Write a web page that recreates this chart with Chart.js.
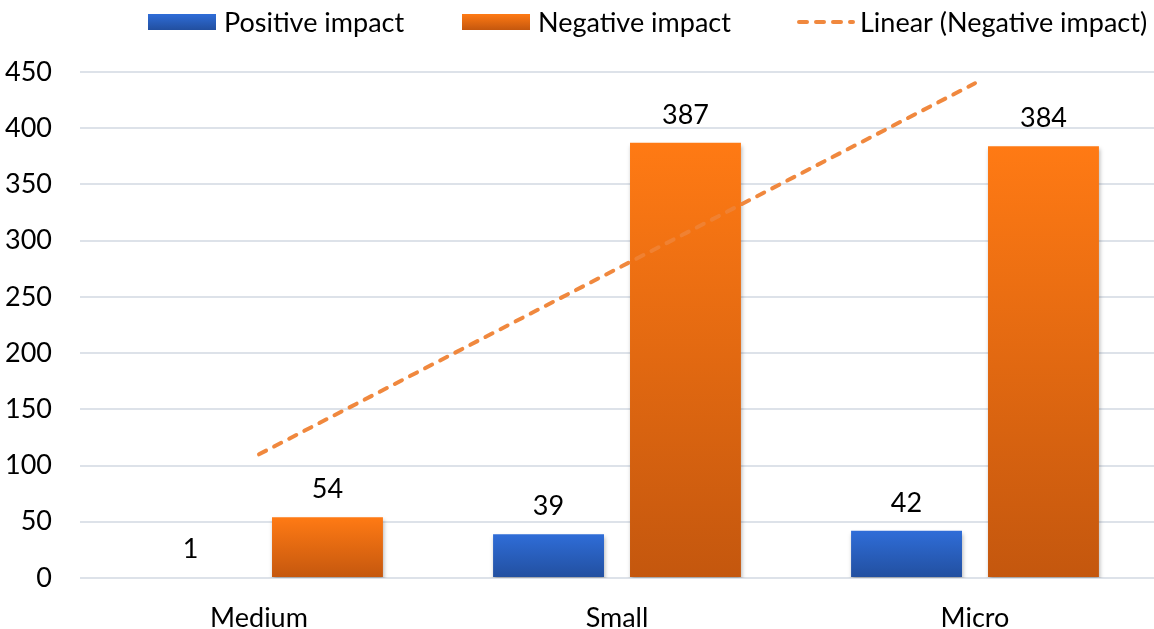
<!DOCTYPE html>
<html>
<head>
<meta charset="utf-8">
<script src="https://cdn.jsdelivr.net/npm/chart.js@4.4.1/dist/chart.umd.min.js"></script>
<style>
  html, body { margin: 0; padding: 0; background: #ffffff; }
  #wrap { width: 1154px; height: 629px; }
</style>
</head>
<body>
<div id="wrap"><canvas id="c" width="1154" height="629"></canvas></div>
<script>
const categories = ['Medium', 'Small', 'Micro'];
const positiveImpact = [1, 39, 42];
const negativeImpact = [54, 387, 384];
const linearNegative = [110, 275, 440];
const seriesLabels = ['Positive impact', 'Negative impact', 'Linear (Negative impact)'];
const yMin = 0, yMax = 450, yStep = 50;

const FONT = 'Lato, "Noto Sans", sans-serif';
const FSIZE = 27;

function barGradient(top, bottom) {
  return function (ctx) {
    const chart = ctx.chart;
    if (!chart.chartArea || ctx.type !== 'data') return top;
    const ys = chart.scales.y;
    const v = ctx.parsed ? ctx.parsed.y : ctx.raw;
    const yTop = ys.getPixelForValue(v);
    const yBase = ys.getPixelForValue(0);
    if (!isFinite(yTop) || Math.abs(yBase - yTop) < 1) return bottom;
    const g = chart.ctx.createLinearGradient(0, yTop, 0, yBase);
    g.addColorStop(0, top);
    g.addColorStop(1, bottom);
    return g;
  };
}

const barShadow = {
  id: 'barShadow',
  beforeDatasetDraw(chart, args) {
    if (args.meta.type !== 'bar') return;
    const c = chart.ctx;
    c.save();
    c.shadowColor = 'rgba(0,0,0,0.28)';
    c.shadowBlur = 4;
    c.shadowOffsetX = 1;
    c.shadowOffsetY = 3;
  },
  afterDatasetDraw(chart, args) {
    if (args.meta.type !== 'bar') return;
    chart.ctx.restore();
  }
};

const valueLabels = {
  id: 'valueLabels',
  afterDatasetsDraw(chart) {
    const c = chart.ctx;
    c.save();
    c.font = FSIZE + 'px ' + FONT;
    c.fillStyle = '#000000';
    c.textAlign = 'center';
    c.textBaseline = 'alphabetic';
    chart.data.datasets.forEach((ds, i) => {
      const meta = chart.getDatasetMeta(i);
      if (meta.type !== 'bar') return;
      meta.data.forEach((el, j) => {
        c.fillText(String(ds.data[j]), el.x, el.y - 19);
      });
    });
    c.restore();
  }
};

const topLegend = {
  id: 'topLegend',
  afterDraw(chart) {
    const c = chart.ctx;
    const ds = chart.data.datasets;
    const starts = [148, 462, 797];
    const cy = 22;
    c.save();
    c.font = FSIZE + 'px ' + FONT;
    c.textBaseline = 'middle';
    c.textAlign = 'left';
    ds.forEach((d, i) => {
      const x = starts[i];
      if (d.type === 'line') {
        c.save();
        c.strokeStyle = d.borderColor;
        c.lineWidth = d.borderWidth;
        c.setLineDash(d.borderDash);
        c.lineCap = d.borderCapStyle;
        c.beginPath();
        c.moveTo(x + 2, cy);
        c.lineTo(x + 56, cy);
        c.stroke();
        c.restore();
        c.fillStyle = '#000';
        c.fillText(d.label, x + 63, cy + 1);
      } else {
        const g = c.createLinearGradient(0, cy - 8, 0, cy + 8);
        g.addColorStop(0, d.legendTop);
        g.addColorStop(1, d.legendBottom);
        c.fillStyle = g;
        c.fillRect(x, cy - 8, 68, 16);
        c.fillStyle = '#000';
        c.fillText(d.label, x + 76, cy + 1);
      }
    });
    c.restore();
  }
};

new Chart(document.getElementById('c'), {
  data: {
    labels: categories,
    datasets: [
      {
        type: 'bar',
        label: seriesLabels[0],
        data: positiveImpact,
        backgroundColor: barGradient('#2f6dd8', '#224f9f'),
        legendTop: '#2f6dd8', legendBottom: '#224f9f',
        categoryPercentage: 0.765,
        barPercentage: 0.81,
        order: 1
      },
      {
        type: 'bar',
        label: seriesLabels[1],
        data: negativeImpact,
        backgroundColor: barGradient('#ff7a14', '#c4570e'),
        legendTop: '#ff7a14', legendBottom: '#c4570e',
        categoryPercentage: 0.765,
        barPercentage: 0.81,
        order: 2
      },
      {
        type: 'line',
        label: seriesLabels[2],
        data: linearNegative,
        borderColor: 'rgba(239,130,52,0.95)',
        borderWidth: 4,
        borderDash: [8, 9],
        borderCapStyle: 'round',
        pointRadius: 0,
        fill: false,
        tension: 0,
        order: 0
      }
    ]
  },
  options: {
    responsive: false,
    animation: false,
    devicePixelRatio: 1,
    layout: { padding: { top: 72, right: 0, bottom: 0, left: 0 } },
    plugins: {
      legend: { display: false },
      tooltip: { enabled: false }
    },
    scales: {
      x: {
        grid: { display: false, drawTicks: false },
        border: { display: false },
        ticks: { color: '#000', font: { family: FONT, size: FSIZE }, padding: 24 },
        afterFit(s) { s.height = 51; }
      },
      y: {
        min: yMin, max: yMax,
        grid: { color: '#dde2e9', lineWidth: 2, drawTicks: false },
        border: { display: false },
        ticks: { stepSize: yStep, color: '#000', font: { family: FONT, size: FSIZE }, padding: 28 },
        afterFit(s) { s.width = 80; }
      }
    }
  },
  plugins: [barShadow, valueLabels, topLegend]
});
</script>
</body>
</html>
